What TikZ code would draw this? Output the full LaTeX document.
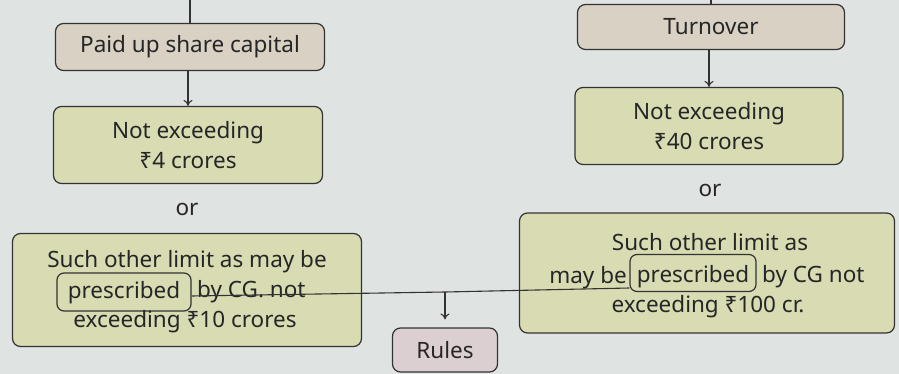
\documentclass[tikz,border=0pt]{standalone}
\usepackage{fontspec}
\setmainfont{Noto Sans}
\usetikzlibrary{calc,arrows.meta}
\definecolor{bgc}{HTML}{DFE3E2}
\definecolor{topc}{HTML}{D8D1C4}
\definecolor{limc}{HTML}{D9DBB3}
\definecolor{rulec}{HTML}{DCCFD1}
\definecolor{linec}{HTML}{333333}
\tikzset{
  box/.style={draw=linec, line width=1.2pt, rounded corners=8pt, inner sep=0pt, align=center},
  topbox/.style={box, fill=topc},
  limbox/.style={box, fill=limc},
  rulebox/.style={box, fill=rulec},
  inbox/.style={draw=linec, line width=1.2pt, rounded corners=7pt, inner sep=0pt},
  txt/.style={inner sep=0pt, font=\fontsize{22.5}{30}\selectfont, text=black!85},
  conn/.style={draw=linec, line width=1.1pt},
  arr/.style={conn, -{To[length=6pt,width=9pt]}}
}
\begin{document}
\begin{tikzpicture}[x=1pt,y=-1pt]
\fill[bgc] (0,0) rectangle (899,374);
\useasboundingbox (0,0) rectangle (899,374);
% left column
\node[topbox, minimum width=269pt, minimum height=47pt, txt] (paid) at (190,47) {Paid up share capital};
\node[limbox, minimum width=269pt, minimum height=77pt, txt, align=center] (ne1) at (188,145) {Not exceeding\\₹4 crores};
\node[txt] (or1) at (187,209) {or};
\node[limbox, minimum width=349pt, minimum height=113pt] (lb) at (187,290) {};
\node[txt, anchor=base] (l1) at (187,267) {Such other limit as may be};
\node[inbox, minimum width=134pt, minimum height=38pt] (lp) at (124,292) {};
\node[txt, anchor=base] (l2a) at (124,298) {prescribed};
\node[txt, anchor=base west] (l2b) at (197,297) {by CG. not};
\node[txt, anchor=base] (l3) at (185,327) {exceeding ₹10 crores};
% right column
\node[topbox, minimum width=267pt, minimum height=45pt, txt] (turn) at (711,27) {Turnover};
\node[limbox, minimum width=268pt, minimum height=77pt, txt, align=center] (ne2) at (709,126) {Not exceeding\\₹40 crores};
\node[txt] (or2) at (710,190) {or};
\node[limbox, minimum width=375pt, minimum height=120pt] (rb) at (707,273) {};
\node[txt, anchor=base] (r1) at (710,250) {Such other limit as};
\node[txt, anchor=base east] (r2a) at (627,283) {may be};
\node[inbox, minimum width=126pt, minimum height=37pt] (rp) at (693,273) {};
\node[txt, anchor=base] (r2b) at (693,282) {prescribed};
\node[txt, anchor=base west] (r2c) at (762,282) {by CG not};
\node[txt, anchor=base] (r3) at (708,312) {exceeding ₹100 cr.};
% rules
\node[rulebox, minimum width=105pt, minimum height=44pt, txt] (rules) at (445,350) {Rules};
% connectors
\coordinate (tl) at (190,0);
\coordinate (tr) at (711,0);
\coordinate (j) at (445,292);
\draw[conn] (tl) -- (tl |- paid.north);
\draw[conn] (tr) -- (tr |- turn.north);
\draw[arr] (paid.south -| ne1.north) -- (ne1.north);
\draw[arr] (turn.south -| ne2.north) -- (ne2.north);
\draw[conn] (lp.east |- 0,296) -- (j) -- (rp.west |- 0,288);
\draw[arr] (j) -- ($(rules.north)+(0,-8)$);
\end{tikzpicture}
\end{document}
